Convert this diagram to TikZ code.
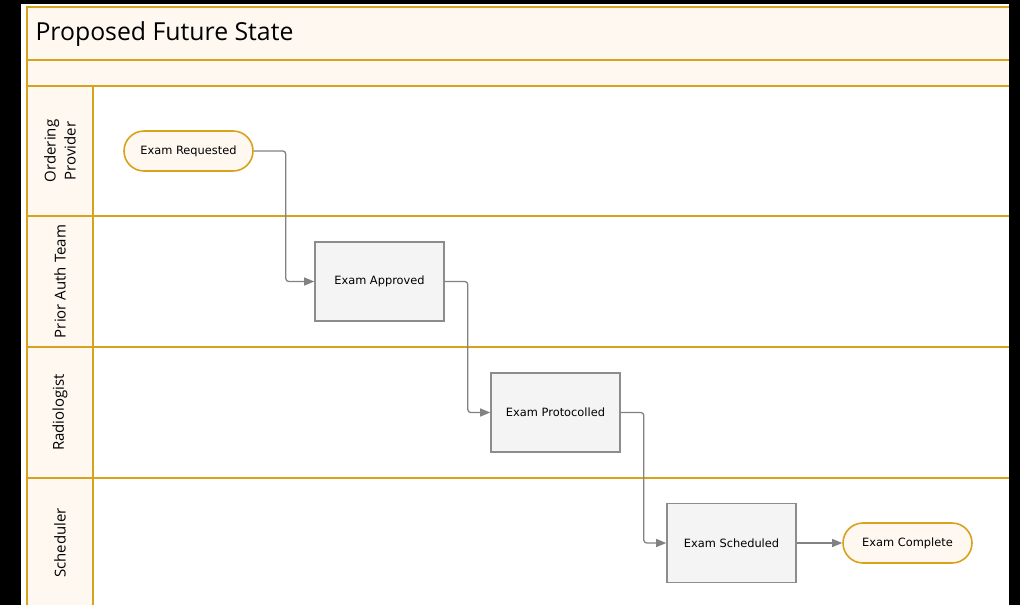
\documentclass[tikz,border=0pt]{standalone}
\usepackage{fontspec}
\setmainfont{Open Sans}
\newfontfamily\boxfont{DejaVu Sans}
\usetikzlibrary{arrows.meta}

\definecolor{lanegold}{RGB}{216,162,28}
\definecolor{lanecream}{RGB}{254,248,241}
\definecolor{boxgray}{RGB}{140,140,140}
\definecolor{boxfill}{RGB}{244,244,244}
\definecolor{flowgray}{RGB}{130,130,130}

\tikzset{
  laneline/.style={draw=lanegold, line width=2pt},
  lanelabel/.style={rotate=90, align=center, font=\fontsize{15}{20}\selectfont},
  task/.style={draw=boxgray, fill=boxfill, rectangle, line width=1.6pt,
    minimum width=129pt, minimum height=79pt, font=\boxfont\fontsize{11.4}{13}\selectfont},
  terminal/.style={draw=lanegold, fill=lanecream, rectangle, rounded corners=20pt, line width=1.6pt,
    minimum width=129pt, minimum height=40pt, font=\boxfont\fontsize{11.4}{13}\selectfont},
  flow/.style={draw=flowgray, line width=1.3pt, rounded corners=3pt,
    -{Triangle[length=10pt,width=8pt]}}
}

\begin{document}
\begin{tikzpicture}[x=1pt,y=-1pt]
    % backdrop and pool
    \fill[black] (0,0) rectangle (1020,605);
    \fill[white] (21,4) rectangle (1009,605);
    \fill[lanecream] (27,7) rectangle (1009,86);
    \fill[lanecream] (27,86) rectangle (93,605);

    \draw[laneline] (27,605) -- (27,7) -- (1009,7);
    \draw[laneline] (27,60) -- (1009,60);
    \draw[laneline] (27,86) -- (1009,86);
    \draw[laneline] (27,216) -- (1009,216);
    \draw[laneline] (27,347) -- (1009,347);
    \draw[laneline] (27,478) -- (1009,478);
    \draw[laneline] (93,86) -- (93,605);

    \node[anchor=west, font=\fontsize{24.8}{28}\selectfont] (title) at (32,34) {Proposed Future State};

    % lanes
    \node[lanelabel] (ordering) at (60,151) {Ordering\\Provider};
    \node[lanelabel] (priorauth) at (60,281.5) {Prior Auth Team};
    \node[lanelabel] (radiologist) at (60,412.5) {Radiologist};
    \node[lanelabel] (scheduler) at (60,543) {Scheduler};

    % steps
    \node[terminal] (requested) at (188.5,151) {Exam Requested};
    \node[task] (approved) at (379.5,281.5) {Exam Approved};
    \node[task] (protocolled) at (555.5,412.5) {Exam Protocolled};
    \node[task] (scheduled) at (731.5,543) {Exam Scheduled};
    \node[terminal] (complete) at (907.5,543) {Exam Complete};

    \draw[flow] (requested.east) -- ++(32,0) |- (approved.west);
    \draw[flow] (approved.east) -- ++(23,0) |- (protocolled.west);
    \draw[flow] (protocolled.east) -- ++(23,0) |- (scheduled.west);
    \draw[flow] (scheduled) -- (complete);
\end{tikzpicture}
\end{document}
